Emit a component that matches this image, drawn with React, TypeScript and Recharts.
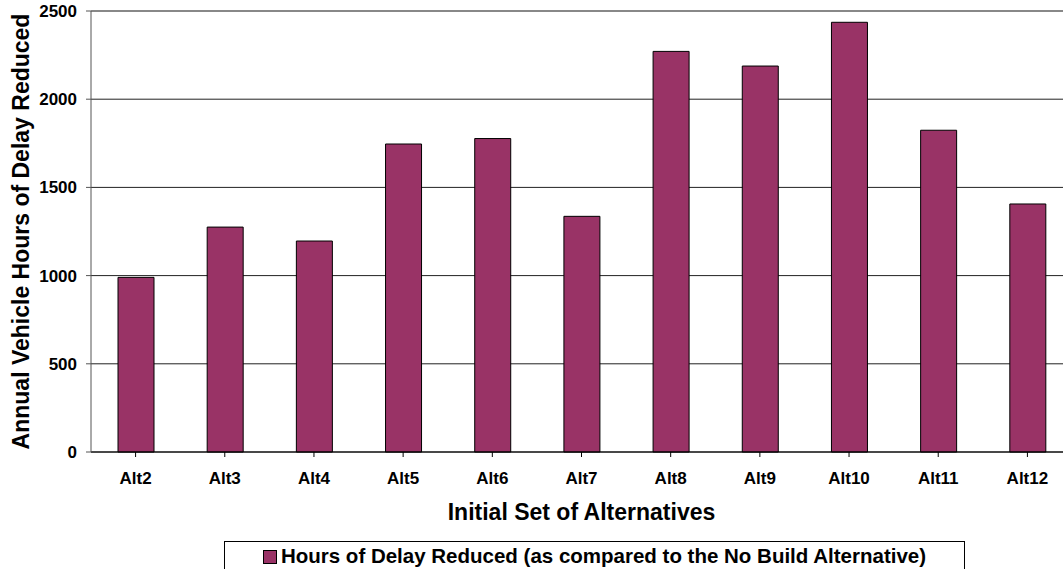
import { BarChart, Bar, XAxis, YAxis, CartesianGrid, Legend, ReferenceLine } from "recharts";

// Annual vehicle hours of delay reduced, one value per alternative
const alternatives = ["Alt2", "Alt3", "Alt4", "Alt5", "Alt6", "Alt7", "Alt8", "Alt9", "Alt10", "Alt11", "Alt12"];
const delayReduced = [990, 1275, 1196, 1746, 1777, 1336, 2271, 2188, 2436, 1824, 1406];
const yTicks = [0, 500, 1000, 1500, 2000, 2500];

const seriesName = "Hours of Delay Reduced (as compared to the No Build Alternative)";
const FONT = "'Liberation Sans', Arial, sans-serif";
const BAR_COLOR = "#993366";

const data = alternatives.map((name, i) => ({ name, hours: delayReduced[i] }));

function YTitle({ viewBox }: any) {
  const cy = viewBox ? viewBox.y + viewBox.height / 2 : 231;
  return (
    <text
      x={29}
      y={cy}
      transform={`rotate(-90, 29, ${cy})`}
      textAnchor="middle"
      fontFamily={FONT}
      fontWeight="bold"
      fontSize={23}
      fill="#000"
    >
      Annual Vehicle Hours of Delay Reduced
    </text>
  );
}

function XTitle({ viewBox }: any) {
  const cx = viewBox ? viewBox.x + viewBox.width / 2 : 581;
  return (
    <text x={cx} y={520} textAnchor="middle" fontFamily={FONT} fontWeight="bold" fontSize={23} fill="#000">
      Initial Set of Alternatives
    </text>
  );
}

function LegendBox() {
  return (
    <div
      style={{
        border: "1px solid #000",
        height: 40,
        boxSizing: "border-box",
        display: "flex",
        justifyContent: "center",
        paddingTop: 4,
        fontFamily: FONT,
        fontWeight: "bold",
        fontSize: 20.5,
        color: "#000",
        background: "#fff",
      }}
    >
      <span
        style={{
          display: "inline-block",
          width: 12,
          height: 12,
          background: BAR_COLOR,
          border: "1px solid #000",
          marginTop: 4,
          marginRight: 4,
        }}
      />
      <span style={{ lineHeight: "20px", whiteSpace: "nowrap" }}>{seriesName}</span>
    </div>
  );
}

export default function App() {
  return (
    <div style={{ position: "absolute", left: 0, top: 0, width: 1063, height: 569, overflow: "hidden", background: "#fff" }}>
      <BarChart width={1080} height={569} data={data} margin={{ top: 11, right: 8, left: 0, bottom: 0 }}>
        <CartesianGrid vertical={false} stroke="#222" strokeWidth={1} />
        <ReferenceLine y={2500} stroke="#888" strokeWidth={2} />
        <XAxis
          dataKey="name"
          height={117}
          stroke="#000"
          tickSize={5}
          tickMargin={15}
          tick={{ fontFamily: FONT, fontWeight: "bold", fontSize: 17, fill: "#000" }}
          label={XTitle}
        />
        <YAxis
          width={91}
          domain={[0, 2500]}
          ticks={yTicks}
          stroke="#555"
          tickSize={5}
          tickMargin={9}
          tick={{ fontFamily: FONT, fontWeight: "bold", fontSize: 17, fill: "#000" }}
          label={YTitle}
        />
        <Legend
          layout="vertical"
          align="center"
          verticalAlign="middle"
          wrapperStyle={{ left: 224, top: 541, width: 741, height: 40 }}
          content={LegendBox}
        />
        <Bar dataKey="hours" name={seriesName} fill={BAR_COLOR} stroke="#000" strokeWidth={1} barSize={36} isAnimationActive={false} />
      </BarChart>
    </div>
  );
}
